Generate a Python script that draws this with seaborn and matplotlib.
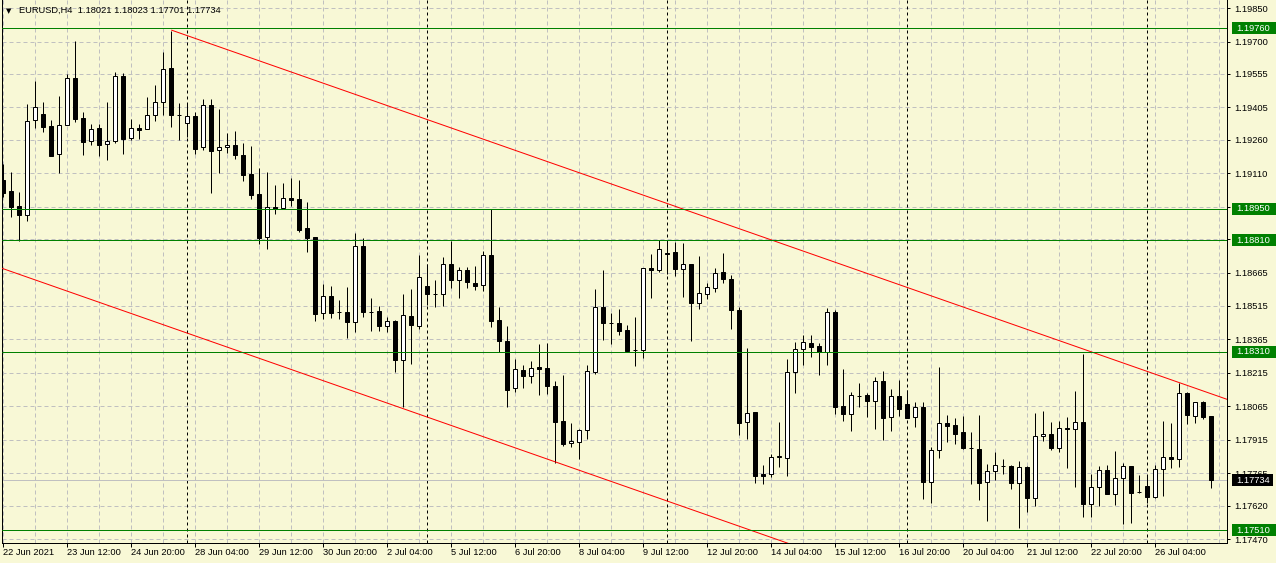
import numpy as np
import pandas as pd
import seaborn as sns
import matplotlib.pyplot as plt
from matplotlib.patches import Rectangle

# EURUSD H4 candles, first bar 22 Jun 2021 04:00
opens = [
    1.19080, 1.19030, 1.18963, 1.18923, 1.19348, 1.19375, 1.19322, 1.19196, 1.19326, 1.19537,
    1.19357, 1.19254, 1.19313, 1.19241, 1.19254, 1.19545, 1.19268, 1.19313, 1.19308, 1.19371,
    1.19429, 1.19581, 1.19371, 1.19335, 1.19366, 1.19227, 1.19416, 1.19214, 1.19227, 1.19236,
    1.19192, 1.19106, 1.19017, 1.18824, 1.18959, 1.18954, 1.18999, 1.18994, 1.18865, 1.18824,
    1.18484, 1.18560, 1.18488, 1.18488, 1.18443, 1.18784, 1.18488, 1.18493, 1.18425, 1.18448,
    1.18273, 1.18470, 1.18425, 1.18605, 1.18569, 1.18569, 1.18703, 1.18632, 1.18676, 1.18618,
    1.18609, 1.18744, 1.18452, 1.18358, 1.18148, 1.18228, 1.18201, 1.18242, 1.18237, 1.18157,
    1.18000, 1.17901, 1.17906, 1.17960, 1.18219, 1.18511, 1.18439, 1.18439, 1.18408, 1.18318,
    1.18318, 1.18685, 1.18676, 1.18753, 1.18757, 1.18681, 1.18703, 1.18529, 1.18569, 1.18596,
    1.18667, 1.18636, 1.18497, 1.17995, 1.18040, 1.17762, 1.17762, 1.17839, 1.17834, 1.18219,
    1.18323, 1.18349, 1.18336, 1.18309, 1.18488, 1.18067, 1.18031, 1.18112, 1.18116, 1.18089,
    1.18179, 1.18018, 1.18112, 1.18076, 1.18018, 1.18063, 1.17727, 1.17870, 1.17991, 1.17982,
    1.17951, 1.17879, 1.17875, 1.17727, 1.17776, 1.17798, 1.17798, 1.17722, 1.17794, 1.17655,
    1.17933, 1.17942, 1.17879, 1.17969, 1.17964, 1.17995, 1.17628, 1.17704, 1.17780, 1.17673,
    1.17745, 1.17798, 1.17682, 1.17709, 1.17659, 1.17785, 1.17839, 1.17830, 1.18125, 1.18022,
    1.18085, 1.18021,
]
highs = [
    1.19151, 1.19115, 1.19026, 1.19420, 1.19523, 1.19429, 1.19348, 1.19456, 1.19555, 1.19702,
    1.19384, 1.19330, 1.19330, 1.19429, 1.19563, 1.19559, 1.19353, 1.19330, 1.19451, 1.19505,
    1.19653, 1.19747, 1.19425, 1.19420, 1.19384, 1.19443, 1.19443, 1.19398, 1.19290, 1.19299,
    1.19245, 1.19232, 1.19133, 1.19115, 1.19057, 1.19066, 1.19089, 1.19080, 1.18981, 1.18826,
    1.18614, 1.18605, 1.18542, 1.18600, 1.18842, 1.18820, 1.18551, 1.18515, 1.18466, 1.18450,
    1.18569, 1.18591, 1.18744, 1.18703, 1.18632, 1.18735, 1.18806, 1.18690, 1.18690, 1.18694,
    1.18762, 1.18950, 1.18511, 1.18425, 1.18278, 1.18251, 1.18269, 1.18345, 1.18350, 1.18179,
    1.18206, 1.17991, 1.17962, 1.18251, 1.18591, 1.18676, 1.18484, 1.18502, 1.18430, 1.18466,
    1.18687, 1.18748, 1.18811, 1.18811, 1.18802, 1.18797, 1.18705, 1.18739, 1.18618, 1.18685,
    1.18753, 1.18654, 1.18511, 1.18327, 1.18042, 1.17803, 1.17852, 1.17995, 1.18278, 1.18354,
    1.18385, 1.18385, 1.18349, 1.18506, 1.18497, 1.18233, 1.18130, 1.18170, 1.18125, 1.18197,
    1.18224, 1.18143, 1.18184, 1.18139, 1.18085, 1.18085, 1.17883, 1.18242, 1.18027, 1.18013,
    1.18022, 1.17951, 1.18027, 1.17807, 1.17861, 1.17830, 1.17803, 1.17821, 1.17798, 1.18036,
    1.18045, 1.17995, 1.18000, 1.18018, 1.18134, 1.18300, 1.17762, 1.17798, 1.17803, 1.17866,
    1.17812, 1.17800, 1.17758, 1.17753, 1.17803, 1.18000, 1.17991, 1.18170, 1.18130, 1.18087,
    1.18089, 1.18023,
]
lows = [
    1.19003, 1.18914, 1.18806, 1.18896, 1.19313, 1.19295, 1.19187, 1.19111, 1.19326, 1.19339,
    1.19192, 1.19236, 1.19187, 1.19169, 1.19245, 1.19196, 1.19259, 1.19263, 1.19308, 1.19344,
    1.19371, 1.19317, 1.19259, 1.19272, 1.19196, 1.19214, 1.19021, 1.19111, 1.19201, 1.19174,
    1.19075, 1.18994, 1.18793, 1.18770, 1.18927, 1.18954, 1.18963, 1.18847, 1.18757, 1.18448,
    1.18457, 1.18461, 1.18457, 1.18372, 1.18399, 1.18466, 1.18403, 1.18403, 1.18399, 1.18219,
    1.18063, 1.18255, 1.18412, 1.18520, 1.18511, 1.18515, 1.18596, 1.18551, 1.18596, 1.18587,
    1.18582, 1.18421, 1.18309, 1.18063, 1.18130, 1.18148, 1.18170, 1.18116, 1.18121, 1.17812,
    1.17888, 1.17883, 1.17830, 1.17919, 1.18211, 1.18363, 1.18345, 1.18385, 1.18312, 1.18246,
    1.18282, 1.18551, 1.18667, 1.18658, 1.18649, 1.18555, 1.18358, 1.18502, 1.18547, 1.18578,
    1.18618, 1.18412, 1.17937, 1.17919, 1.17722, 1.17718, 1.17749, 1.17794, 1.17753, 1.18125,
    1.18251, 1.18287, 1.18206, 1.18251, 1.18031, 1.18000, 1.17955, 1.18063, 1.18018, 1.17964,
    1.17915, 1.17955, 1.18022, 1.18011, 1.17973, 1.17650, 1.17633, 1.17834, 1.17906, 1.17897,
    1.17875, 1.17718, 1.17646, 1.17552, 1.17736, 1.17762, 1.17695, 1.17521, 1.17592, 1.17619,
    1.17910, 1.17870, 1.17861, 1.17789, 1.17704, 1.17570, 1.17570, 1.17619, 1.17671, 1.17624,
    1.17539, 1.17543, 1.17677, 1.17633, 1.17655, 1.17664, 1.17789, 1.17794, 1.17986, 1.17991,
    1.18009, 1.17701,
]
closes = [
    1.19021, 1.18959, 1.18923, 1.19344, 1.19407, 1.19317, 1.19187, 1.19326, 1.19537, 1.19353,
    1.19250, 1.19308, 1.19236, 1.19254, 1.19545, 1.19263, 1.19313, 1.19304, 1.19371, 1.19429,
    1.19577, 1.19371, 1.19369, 1.19366, 1.19219, 1.19416, 1.19210, 1.19227, 1.19236, 1.19192,
    1.19102, 1.19012, 1.18820, 1.18959, 1.18950, 1.18999, 1.18990, 1.18856, 1.18820, 1.18479,
    1.18560, 1.18484, 1.18486, 1.18443, 1.18784, 1.18488, 1.18486, 1.18425, 1.18448, 1.18273,
    1.18475, 1.18430, 1.18645, 1.18569, 1.18567, 1.18703, 1.18632, 1.18676, 1.18623, 1.18605,
    1.18744, 1.18448, 1.18358, 1.18139, 1.18233, 1.18201, 1.18237, 1.18233, 1.18157, 1.17995,
    1.17897, 1.17910, 1.17960, 1.18224, 1.18511, 1.18439, 1.18437, 1.18403, 1.18314, 1.18316,
    1.18685, 1.18676, 1.18770, 1.18748, 1.18681, 1.18703, 1.18529, 1.18573, 1.18600, 1.18663,
    1.18636, 1.18497, 1.17991, 1.18036, 1.17753, 1.17753, 1.17839, 1.17841, 1.18219, 1.18323,
    1.18354, 1.18331, 1.18309, 1.18488, 1.18063, 1.18031, 1.18116, 1.18110, 1.18089, 1.18179,
    1.18013, 1.18112, 1.18054, 1.18013, 1.18063, 1.17727, 1.17870, 1.17991, 1.17977, 1.17942,
    1.17879, 1.17877, 1.17722, 1.17776, 1.17803, 1.17796, 1.17722, 1.17794, 1.17655, 1.17933,
    1.17942, 1.17879, 1.17969, 1.17964, 1.17995, 1.17628, 1.17704, 1.17780, 1.17673, 1.17745,
    1.17798, 1.17677, 1.17680, 1.17659, 1.17785, 1.17839, 1.17830, 1.18125, 1.18027, 1.18085,
    1.18018, 1.17734,
]

# bottom axis: one label every 8 bars
date_ticks = [0, 8, 16, 24, 32, 40, 48, 56, 64, 72, 80, 88, 96, 104, 112, 120, 128, 136, 144]
date_labels = ["22 Jun 2021", "23 Jun 12:00", "24 Jun 20:00", "28 Jun 04:00", "29 Jun 12:00",
               "30 Jun 20:00", "2 Jul 04:00", "5 Jul 12:00", "6 Jul 20:00", "8 Jul 04:00",
               "9 Jul 12:00", "12 Jul 20:00", "14 Jul 04:00", "15 Jul 12:00", "16 Jul 20:00",
               "20 Jul 04:00", "21 Jul 12:00", "22 Jul 20:00", "26 Jul 04:00"]
week_starts = [23, 53, 83, 113, 143]   # monday 00:00 bars

price_ticks = [1.19850, 1.19700, 1.19555, 1.19405, 1.19260, 1.19110, 1.18960, 1.18815, 1.18665,
               1.18515, 1.18365, 1.18215, 1.18065, 1.17915, 1.17765, 1.17620, 1.17470]

# horizontal levels (green) and bid
levels = [1.19760, 1.18950, 1.18810, 1.18310, 1.17510]
bid = 1.17734

# channel anchors (bar index, price)
upper_x = [21, 155]
upper_y = [1.19751, 1.18071]
lower_x = [-1, 110]
lower_y = [1.18694, 1.17302]

sns.set_style("ticks")
plt.rcParams["font.family"] = ["Liberation Sans", "DejaVu Sans"]

BG = "#f8f8d6"
PX = 0.72          # one pixel in points
FS = 6.7

fig = plt.figure(figsize=(12.76, 5.63), dpi=100, facecolor=BG)
ax = fig.add_axes([2 / 1276, 20 / 563, 1225 / 1276, 543 / 563])
ax.set_facecolor(BG)

df = pd.DataFrame({"open": opens, "high": highs, "low": lows, "close": closes})
df["i"] = np.arange(len(df))
df["up"] = df["close"] > df["open"]

# grid
for i in range(0, len(df) + 4, 4):
    ax.axvline(i, color="#c0c0c0", lw=PX, ls=(0, (4, 3)), zorder=0)
for p in price_ticks:
    ax.axhline(p, color="#c0c0c0", lw=PX, ls=(0, (4, 3)), zorder=0)
for i in week_starts:
    ax.axvline(i, color="black", lw=PX, ls=(0, (3, 3)), zorder=1)
ax.axhline(bid, color="#c0c0c0", lw=PX, zorder=1)

# candles
ax.vlines(df["i"], df["low"], df["high"], color="black", lw=PX, zorder=3)
body_bottom = df[["open", "close"]].min(axis=1)
body_height = (df["close"] - df["open"]).abs()
ax.bar(df["i"], body_height, bottom=body_bottom, width=0.5,
       color=np.where(df["up"], "white", "black"), edgecolor="black", linewidth=PX, zorder=4)

# channel
sns.lineplot(x=upper_x, y=upper_y, color="red", lw=PX, ax=ax, zorder=5)
sns.lineplot(x=lower_x, y=lower_y, color="red", lw=PX, ax=ax, zorder=5)

for p in levels:
    ax.axhline(p, color="#008000", lw=PX, zorder=5)

ax.set_xlim(-0.1875, 152.94)
ax.set_ylim(1.17453, 1.19886)
ax.set_xlabel("")
ax.set_ylabel("")

# axes
ax.yaxis.tick_right()
ax.set_yticks(price_ticks)
ax.set_yticklabels([f"{p:.5f}" for p in price_ticks])
ax.tick_params(axis="y", length=2.2, width=PX, pad=3.0, labelsize=FS, colors="black")
ax.set_xticks(date_ticks)
ax.set_xticklabels(date_labels)
for lbl in ax.get_xticklabels():
    lbl.set_ha("left")
ax.tick_params(axis="x", length=2.9, width=PX, pad=0.8, labelsize=FS, colors="black")
ax.spines["top"].set_visible(False)
for s in ["left", "right", "bottom"]:
    ax.spines[s].set_linewidth(PX)
    ax.spines[s].set_color("black")

# price boxes on the right scale
ytrans = ax.get_yaxis_transform()
box_h = 12 * 0.0000448
x0 = (1232 - 2) / 1225
x1 = (1276 - 2) / 1225
tx = (1236 - 2) / 1225
for p in levels:
    ax.add_patch(Rectangle((x0, p - box_h / 2), x1 - x0, box_h, transform=ytrans,
                           facecolor="#008000", edgecolor="none", clip_on=False, zorder=10))
    ax.text(tx, p, f"{p:.5f}", transform=ytrans, color="white", fontsize=FS,
            va="center", ha="left", clip_on=False, zorder=11)
ax.add_patch(Rectangle((x0, bid - box_h / 2), (1273 - 1232) / 1225, box_h, transform=ytrans,
                       facecolor="black", edgecolor="none", clip_on=False, zorder=10))
ax.text(tx, bid, f"{bid:.5f}", transform=ytrans, color="white", fontsize=FS,
        va="center", ha="left", clip_on=False, zorder=11)

# header
fig.text(9 / 1276, 1 - 11 / 563, "▼", fontsize=5, va="center", ha="center",
         family=["DejaVu Sans"], color="black")
fig.text(19 / 1276, 1 - 10.5 / 563,
         f"EURUSD,H4  {opens[-1]:.5f} {highs[-1]:.5f} {lows[-1]:.5f} {closes[-1]:.5f}",
         fontsize=FS, va="center", ha="left", color="black")

fig.savefig("out.png", dpi=100, facecolor=BG)
